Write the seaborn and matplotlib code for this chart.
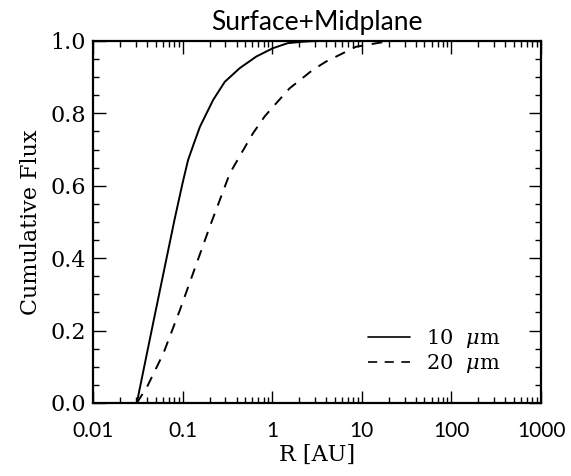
import matplotlib
matplotlib.use("Agg")
import matplotlib.pyplot as plt
import matplotlib.ticker as mticker
import seaborn as sns
import pandas as pd
import numpy as np

# Data
r10 = [0.0308, 0.047, 0.081, 0.10, 0.115, 0.135, 0.156, 0.219, 0.295, 0.434, 0.664, 1.016, 1.49,
       2.2, 3.1, 5.0, 100.0, 1000.0]
f10 = [0.0, 0.222, 0.505, 0.608, 0.671, 0.720, 0.763, 0.837, 0.887, 0.925, 0.957, 0.980, 0.994,
       0.998, 1.0, 1.0, 1.0, 1.0]
r20 = [0.0308, 0.040, 0.061, 0.093, 0.143, 0.201, 0.336, 0.453, 0.61, 0.82, 1.02, 1.56, 2.83,
       3.98, 8.6, 15.5, 21.0, 100.0, 1000.0]
f20 = [0.0, 0.044, 0.137, 0.256, 0.385, 0.487, 0.634, 0.690, 0.745, 0.791, 0.818, 0.869, 0.920,
       0.943, 0.984, 0.995, 1.0, 1.0, 1.0]
labels = [r"10  $\mu$m", r"20  $\mu$m"]
title = "Surface+Midplane"
xticks = [0.01, 0.1, 1, 10, 100, 1000]
xticklabels = ["0.01", "0.1", "1", "10", "100", "1000"]
yticks = [0.0, 0.2, 0.4, 0.6, 0.8, 1.0]

df = pd.concat([
    pd.DataFrame({"R": r10, "F": f10, "band": labels[0]}),
    pd.DataFrame({"R": r20, "F": f20, "band": labels[1]}),
], ignore_index=True)

sns.set_style("ticks")
plt.rcParams.update({
    "mathtext.fontset": "dejavuserif",
    "text.color": "black",
    "axes.labelcolor": "black",
    "xtick.color": "black",
    "ytick.color": "black",
    "axes.edgecolor": "black",
})

fig = plt.figure(figsize=(5.71, 4.76), dpi=100)
ax = fig.add_axes([0.1629, 0.1534, 0.7846, 0.7605])

sns.lineplot(data=df, x="R", y="F", hue="band", style="band",
             palette=["black", "black"], dashes={labels[0]: "", labels[1]: (5.5, 4.5)},
             linewidth=1.4, ax=ax, sort=False, estimator=None, legend=True)
for ln in ax.lines:
    ln.set_clip_on(False)

ax.set_xscale("log")
ax.set_xlim(0.01, 1000)
ax.set_ylim(0.0, 1.0)

ax.xaxis.set_major_locator(mticker.FixedLocator(xticks))
ax.xaxis.set_minor_locator(mticker.LogLocator(base=10, subs=np.arange(2, 10)))
ax.xaxis.set_minor_formatter(mticker.NullFormatter())
ax.set_xticklabels(xticklabels, family="Lato", fontsize=15, color="black")
ax.set_yticks(yticks)
ax.yaxis.set_minor_locator(mticker.MultipleLocator(0.05))
ax.set_yticklabels([f"{v:.1f}" for v in yticks], family="DejaVu Serif", fontsize=16, color="black")

ax.tick_params(which="both", direction="in", top=True, right=True, color="black", width=1.0)
ax.tick_params(which="major", length=9)
ax.tick_params(axis="y", which="major", pad=5)
ax.tick_params(axis="x", which="major", pad=13)
ax.tick_params(which="minor", length=4.5)
for s in ax.spines.values():
    s.set_linewidth(1.6)
    s.set_color("black")

ax.set_xlabel("R [AU]", family="DejaVu Serif", fontsize=16, labelpad=2, color="black")
ax.set_ylabel("Cumulative Flux", family="DejaVu Serif", fontsize=16, labelpad=6, color="black")
ax.set_title(title, family="Lato", fontsize=19, pad=8, color="black")

leg = ax.legend(loc="center left", bbox_to_anchor=(0.614, 0.143), frameon=False,
                borderpad=0, borderaxespad=0,
                handlelength=2.0, handletextpad=0.8, labelspacing=0.1,
                prop={"family": "DejaVu Serif", "size": 15})
for h in leg.get_lines():
    h.set_color("black")
    h.set_linewidth(1.2)
for t in leg.get_texts():
    t.set_color("black")

fig.savefig("out.png", dpi=100)
